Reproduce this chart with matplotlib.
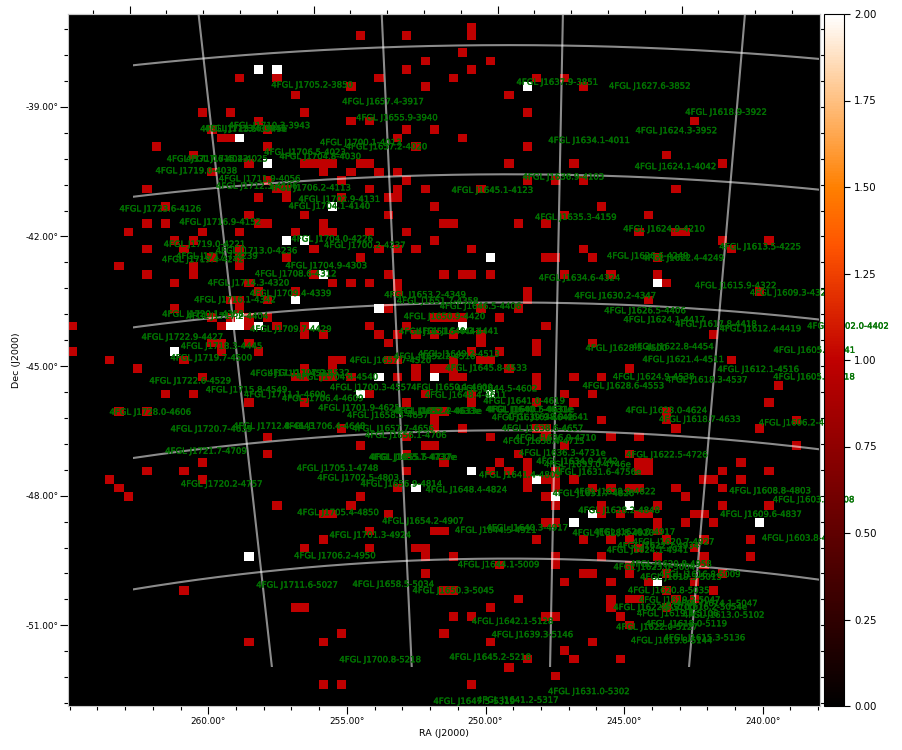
"""Counts map with 4FGL source names on a gnomonic sky grid"""

import numpy as np
from matplotlib import patheffects as pe
from matplotlib import pyplot as plt
from matplotlib.patches import Rectangle

# Cells at 1 count, row (from the top of the map) -> columns.
RED_ROWS = {
    1: [43], 2: [31, 36, 43], 4: [42], 5: [38, 45], 6: [36, 43],
    7: [18, 22, 33, 41, 50, 53], 8: [30, 38, 55], 9: [24, 47],
    11: [14, 17, 25, 49], 12: [20, 30, 32, 67], 13: [15, 21, 36, 39],
    14: [16, 17, 35, 42], 15: [9, 21, 37, 49], 16: [13, 64],
    17: [19, 25, 26, 27, 28, 31, 32, 47, 54, 70], 18: [15, 27, 30, 33, 35],
    19: [21, 29, 36, 49, 52, 55], 20: [8, 22, 23, 32, 35, 38, 44, 65],
    21: [20, 23, 29, 34, 35], 22: [10, 39, 57], 23: [19, 25, 34, 53, 62],
    24: [8, 10, 20, 21, 27, 40, 41, 48, 51],
    25: [6, 14, 18, 24, 27, 28, 32, 36, 61, 65, 66],
    26: [11, 13, 39, 70, 75], 27: [8, 12, 18, 26, 33, 35, 37, 43, 55, 71],
    28: [15, 18, 23, 31, 51, 52, 56, 63], 29: [5, 13, 18],
    30: [8, 13, 26, 34, 40, 42, 43, 45, 53, 58, 63],
    31: [11, 19, 28, 30, 32, 35, 64], 32: [20, 24, 35, 49, 74],
    33: [17, 18, 21, 49, 62], 34: [11, 18, 34, 44, 48],
    35: [15, 17, 19, 21, 39, 40, 41, 42, 46],
    36: [0, 16, 19, 22, 25, 32, 36, 51],
    37: [25, 27, 33, 35, 37, 39, 41, 44, 69], 38: [15, 16, 19, 34, 44, 50, 56],
    39: [0, 16, 20, 43, 46, 50], 40: [4, 12, 28, 29, 34, 35, 41, 44, 45, 71],
    41: [7, 25, 28, 37, 39, 40, 41, 47, 60],
    42: [14, 24, 25, 27, 28, 30, 35, 37, 41, 42, 50, 54, 57], 43: [50, 76],
    44: [10, 13, 32, 38, 43, 53, 56], 45: [19, 25, 36, 43, 50, 54, 75],
    46: [5, 8, 39, 40, 64], 47: [39, 57, 64, 78],
    48: [29, 39, 42, 50, 51, 65, 74], 49: [21, 36, 45, 51, 58, 61],
    50: [31, 38, 39, 53, 78], 51: [21, 36, 48, 60],
    52: [14, 40, 46, 49, 61, 62, 72],
    53: [8, 12, 36, 45, 47, 49, 52, 61, 62, 70, 75],
    54: [4, 14, 49, 51, 52, 54, 68, 69, 72],
    55: [5, 35, 49, 52, 56, 58, 60, 61, 65, 70], 56: [6, 31, 51, 66],
    57: [22, 30, 52, 57, 63, 70, 75],
    58: [27, 28, 34, 57, 59, 61, 62, 67, 68], 59: [51, 52, 63, 66, 69],
    60: [32, 39, 40, 63], 61: [27, 50, 55, 58, 60, 64, 68, 73],
    62: [25, 32, 37, 38, 61, 67], 63: [38, 41, 52, 57, 63, 68, 73],
    64: [46, 52, 60, 68], 65: [38, 55, 56, 60, 64, 70], 66: [53, 58, 62, 67],
    67: [12, 40, 41, 64, 69], 68: [48, 58, 60, 61, 65, 67],
    69: [24, 25, 45, 58, 64], 70: [41, 43, 51, 52, 59], 71: [60], 72: [29, 40],
    73: [19, 27, 45, 56], 74: [53], 75: [49, 54, 59], 76: [47], 77: [52],
    78: [27, 29, 43],
}

# Cells at 2 counts.
WHITE_ROWS = {
    6: [20, 22], 8: [49], 14: [18], 17: [21], 22: [28], 26: [23, 25], 28: [45],
    30: [27], 31: [63], 33: [24], 34: [33], 35: [18], 36: [17, 18, 20, 26, 42],
    39: [11], 42: [33, 39], 44: [31, 45], 53: [43], 54: [50], 55: [37], 56: [52],
    57: [60], 58: [56], 59: [54, 74], 63: [19], 66: [63],
}

SOURCES = [
    "J1705.2-3850", "J1637.9-3851", "J1627.6-3852", "J1657.4-3917",
    "J1655.9-3940", "J1618.9-3922", "J1710.3-3943", "J1713.5-3945e",
    "J1713.0-3945", "J1624.3-3952", "J1634.1-4011", "J1700.1-4013",
    "J1657.2-4020", "J1706.5-4023", "J1704.8-4030", "J1717.6-4023",
    "J1715.4-4025", "J1719.0-4038", "J1711.9-4056", "J1712.3-4106",
    "J1706.2-4113", "J1645.1-4123", "J1636.9-4103", "J1624.1-4042",
    "J1702.9-4131", "J1704.1-4140", "J1723.6-4126", "J1716.9-4152",
    "J1635.3-4159", "J1624.9-4210", "J1719.0-4221", "J1713.0-4236",
    "J1704.0-4226", "J1700.2-4237", "J1613.5-4225", "J1634.6-4324",
    "J1717.7-4239", "J1719.4-4242", "J1708.6-4312", "J1704.9-4303",
    "J1714.3-4320", "J1709.4-4339", "J1716.1-4342", "J1653.2-4349",
    "J1651.7-4358", "J1646.5-4406", "J1650.9-4420", "J1630.2-4347",
    "J1626.5-4406", "J1624.1-4417", "J1617.8-4418", "J1612.4-4419",
    "J1615.9-4322", "J1609.3-4325", "J1602.0-4402", "J1622.4-4249",
    "J1626.6-4249", "J1720.1-4358", "J1717.2-4404", "J1709.7-4429",
    "J1722.9-4427", "J1718.3-4445", "J1719.7-4500", "J1722.6-4529",
    "J1715.8-4549", "J1710.1-4531", "J1707.9-4532", "J1704.4-4540",
    "J1711.1-4600", "J1706.4-4609", "J1728.0-4606", "J1720.7-4639",
    "J1712.8-4643", "J1706.4-4648", "J1721.7-4709", "J1705.1-4748",
    "J1702.5-4803", "J1720.2-4757", "J1656.9-4814", "J1648.4-4824",
    "J1705.4-4850", "J1654.2-4907", "J1701.3-4924", "J1644.5-4921",
    "J1640.3-4917", "J1706.2-4950", "J1644.1-5009", "J1711.6-5027",
    "J1658.5-5034", "J1650.3-5045", "J1642.1-5128", "J1639.3-5146",
    "J1645.2-5218", "J1700.8-5218", "J1647.5-5319", "J1641.2-5317",
    "J1631.0-5302", "J1622.0-5127", "J1619.8-5144", "J1615.3-5136",
    "J1618.0-5119", "J1613.0-5102", "J1614.1-5047", "J1619.2-5047",
    "J1622.6-5100", "J1619.3-5106", "J1616.2-5054e", "J1620.8-5035",
    "J1619.3-5015", "J1616.8-5009", "J1623.0-5004", "J1620.8-4958",
    "J1624.1-4941", "J1622.7-4934", "J1620.7-4927", "J1628.8-4920",
    "J1626.0-4917", "J1628.2-4848", "J1631.7-4826", "J1628.9-4822",
    "J1609.6-4837", "J1608.8-4803", "J1603.1-4808", "J1603.8-4903",
    "J1622.5-4726", "J1631.6-4756e", "J1633.0-4746e", "J1634.0-4742",
    "J1636.3-4731e", "J1636.9-4710", "J1638.4-4715", "J1638.6-4657",
    "J1640.7-4631e", "J1640.5-4631e", "J1639.9-4642", "J1638.0-4641",
    "J1641.0-4619", "J1644.5-4602", "J1650.1-4600", "J1648.4-4611",
    "J1645.8-4533", "J1649.2-4513", "J1652.2-4516", "J1657.7-4520",
    "J1700.3-4557", "J1701.9-4625", "J1658.3-4637", "J1652.2-4633e",
    "J1652.4-4633e", "J1657.7-4656", "J1656.1-4706", "J1655.5-4737e",
    "J1655.7-4737e", "J1651.5-4441", "J1649.3-4441", "J1628.5-4500",
    "J1622.8-4454", "J1621.4-4511", "J1624.9-4538", "J1618.3-4537",
    "J1612.1-4516", "J1605.2-4518", "J1628.6-4553", "J1623.0-4624",
    "J1618.7-4633", "J1606.2-4624", "J1605.6-4441", "J1641.4-4803",
]

RA_TICKS = [260, 255, 250, 245, 240]
RA_MINOR = list(range(236, 270))
DEC_TICKS = [-39, -42, -45, -48, -51]
DEC_MINOR = [-37.2, -37.8, -38.4, -39.6, -40.2, -40.8, -41.4, -42.6, -43.2,
             -43.8, -44.4, -45.6, -46.2, -46.8, -47.4, -48.6, -49.2, -49.8,
             -50.4, -51.6, -52.2, -52.8]
GRID_RA = [260, 255, 250, 245]
GRID_DEC = [-38, -41, -44, -47, -50]
CBAR_TICKS = [0, 0.25, 0.5, 0.75, 1, 1.25, 1.5, 1.75, 2]

N_CELLS = 81
RA0, DEC0 = 251.5, -45.3
CDELT_X, CDELT_Y = 0.2026, 0.2005

# Where the edge ticks fall, in cells: value at 260 deg / -39 deg, cells per deg.
BOTTOM_RA = (14.62, 2.988)
TOP_RA = (6.15, 3.966)
SIDE_DEC = (69.63, 5.057)


def sky_to_cell(ra, dec):
    """Gnomonic projection from degrees to map cells"""
    dra = np.radians(np.asarray(ra, dtype=float) - RA0)
    d = np.radians(np.asarray(dec, dtype=float))
    d0 = np.radians(DEC0)
    den = np.sin(d0) * np.sin(d) + np.cos(d0) * np.cos(d) * np.cos(dra)
    xi = np.degrees(np.cos(d) * np.sin(dra) / den)
    eta = np.degrees(
        (np.cos(d0) * np.sin(d) - np.sin(d0) * np.cos(d) * np.cos(dra)) / den
    )
    return 40 - xi / CDELT_X, 40 + eta / CDELT_Y


def grid_to_cell(ra, dec):
    """The drawn grid is offset from the map and a little narrower"""
    x, y = sky_to_cell(ra, dec)
    meridian, _ = sky_to_cell(251.7, -45.0)
    return meridian + 7 + (x - meridian) * 0.984, y + 0.25


def ra_edge_ticks(values, edge):
    cells = [edge[0] + (260 - v) * edge[1] for v in values]
    return [c for c in cells if -0.5 <= c <= 80.5]


def dec_edge_ticks(values, edge):
    cells = [edge[0] + (v + 39) * edge[1] for v in values]
    return [c for c in cells if -0.5 <= c <= 80.5]


def source_position(name):
    """Source names carry their own sky position: Jhhmm.m-ddmm"""
    name = name.rstrip("e")
    ra = (int(name[1:3]) + float(name[3:7]) / 60) * 15
    dec = -(int(name[8:10]) + int(name[10:12]) / 60)
    return ra, dec


counts = np.zeros((N_CELLS, N_CELLS))
for row, cols in RED_ROWS.items():
    counts[N_CELLS - 1 - row, cols] = 1
for row, cols in WHITE_ROWS.items():
    counts[N_CELLS - 1 - row, cols] = 2

fig = plt.figure(figsize=(9.02, 7.5), dpi=100)
ax = fig.add_axes([68 / 902, 1 - 706 / 750, 751.5 / 902, 692 / 750])
image = ax.imshow(
    counts, origin="lower", cmap="gist_heat", vmin=0, vmax=2,
    interpolation="nearest", aspect="auto",
)

# The grid sits a few cells off the map's own sky coordinates.
clip = Rectangle((6.5, 4.03), 74, 77, transform=ax.transData)
ra_line = np.linspace(225, 280, 300)
dec_line = np.linspace(-58, -30, 300)
for dec in GRID_DEC:
    x, y = grid_to_cell(ra_line, np.full_like(ra_line, dec))
    line, = ax.plot(x, y, color="white", alpha=0.55, lw=1.5)
    line.set_clip_path(clip)
for ra in GRID_RA:
    x, y = grid_to_cell(np.full_like(dec_line, ra), dec_line)
    line, = ax.plot(x, y, color="white", alpha=0.55, lw=1.5)
    line.set_clip_path(clip)

halo = [pe.withStroke(linewidth=0.25, foreground="#006a00")]
for name in SOURCES:
    x, y = sky_to_cell(*source_position(name))
    ax.text(x, y, "4FGL " + name, color="#007400", fontsize=6.15, clip_on=False,
            path_effects=halo)

ax.set_xlim(-0.5, 80.5)
ax.set_ylim(-0.5, 80.5)

# Bottom and left carry the labels, top and right only ticks.
ax.set_xticks(ra_edge_ticks(RA_TICKS, BOTTOM_RA))
ax.set_xticklabels([f"{v:.2f}°" for v in RA_TICKS], fontsize=6.4)
ax.set_xticks(ra_edge_ticks(RA_MINOR, BOTTOM_RA), minor=True)
ax.set_yticks(dec_edge_ticks(DEC_TICKS, SIDE_DEC))
ax.set_yticklabels([f"{v:.2f}°" for v in DEC_TICKS], fontsize=6.4)
ax.set_yticks(dec_edge_ticks(DEC_MINOR, SIDE_DEC), minor=True)
ax.tick_params(which="major", length=6, width=0.8)
ax.tick_params(axis="y", which="major", pad=1)
ax.tick_params(axis="x", which="major", pad=2)
ax.tick_params(which="minor", length=3, width=0.8)
ax.set_xlabel("RA (J2000)", fontsize=6.8, labelpad=2)
ax.set_ylabel("Dec (J2000)", fontsize=6.8, labelpad=3)

top = ax.secondary_xaxis("top")
top.set_xticks(ra_edge_ticks(RA_TICKS, TOP_RA))
top.set_xticklabels([])
top.set_xticks(ra_edge_ticks(RA_MINOR, TOP_RA), minor=True)
top.tick_params(which="major", length=6, width=0.8)
top.tick_params(which="minor", length=3, width=0.8)
right = ax.secondary_yaxis("right")
right.set_yticks(dec_edge_ticks(DEC_TICKS, SIDE_DEC))
right.set_yticklabels([])
right.set_yticks(dec_edge_ticks(DEC_MINOR, SIDE_DEC), minor=True)
right.tick_params(which="major", length=6, width=0.8)
right.tick_params(which="minor", length=3, width=0.8)
for axis in (ax, top, right):
    for spine in axis.spines.values():
        spine.set_color("#c8c8c8")

cax = fig.add_axes([824.3 / 902, 1 - 706 / 750, 20 / 902, 692 / 750])
cbar = fig.colorbar(image, cax=cax, ticks=CBAR_TICKS, format="%.2f")
cbar.ax.tick_params(labelsize=7.4, length=4, width=0.8, pad=3)

fig.savefig("out.png", dpi=100)
